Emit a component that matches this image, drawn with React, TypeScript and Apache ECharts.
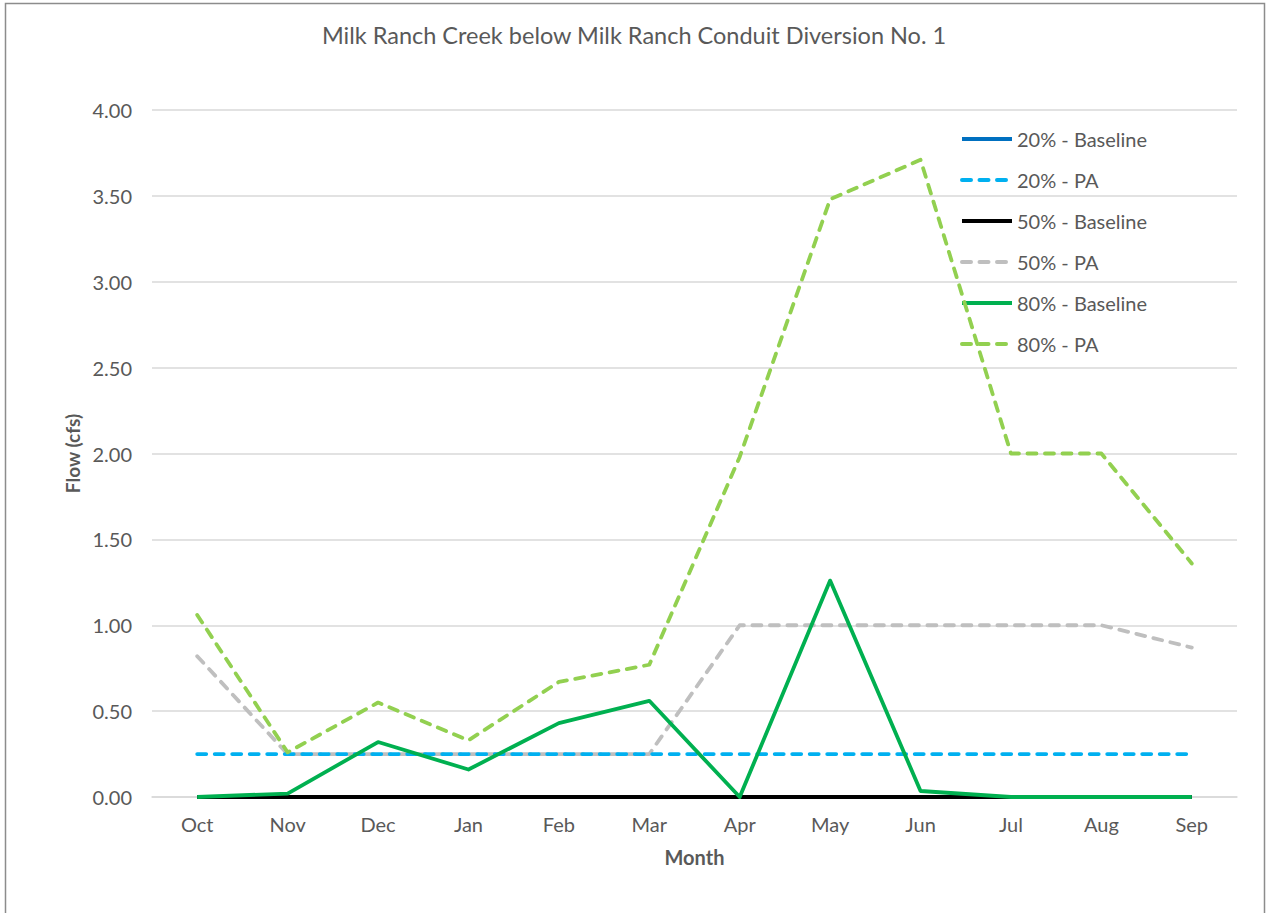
import React, { useEffect, useRef } from "react";
import * as echarts from "echarts";

const months = ["Oct", "Nov", "Dec", "Jan", "Feb", "Mar", "Apr", "May", "Jun", "Jul", "Aug", "Sep"];
const baseline20 = [0, 0, 0, 0, 0, 0, 0, 0, 0, 0, 0, 0];
const pa20 = [0.25, 0.25, 0.25, 0.25, 0.25, 0.25, 0.25, 0.25, 0.25, 0.25, 0.25, 0.25];
const baseline50 = [0, 0, 0, 0, 0, 0, 0, 0, 0, 0, 0, 0];
const pa50 = [0.82, 0.25, 0.25, 0.25, 0.25, 0.25, 1.0, 1.0, 1.0, 1.0, 1.0, 0.87];
const baseline80 = [0, 0.02, 0.32, 0.16, 0.43, 0.56, 0, 1.26, 0.035, 0, 0, 0];
const pa80 = [1.06, 0.26, 0.55, 0.33, 0.67, 0.77, 1.98, 3.48, 3.71, 2.0, 2.0, 1.36];
const yTicks = [0, 0.5, 1, 1.5, 2, 2.5, 3, 3.5, 4];

const FONT = "Lato, 'Open Sans', sans-serif";
const TXT = "#595959";

export default function App() {
  const ref = useRef<HTMLDivElement>(null);
  useEffect(() => {
    if (!ref.current) return;
    const chart = echarts.init(ref.current, null, { renderer: "svg" });
    const mk = (name: string, data: number[], color: string, dashed: boolean, z: number) => ({
      name,
      type: "line",
      data,
      symbol: "none",
      showSymbol: false,
      z,
      itemStyle: { color },
      lineStyle: {
        color,
        width: 3.8,
        type: dashed ? [9, 8.5] : "solid",
        cap: dashed ? "round" : "butt",
        join: "round",
      },
    });
    chart.setOption({
      animation: false,
      backgroundColor: "#ffffff",
      textStyle: { fontFamily: FONT },
      title: {
        text: "Milk Ranch Creek below Milk Ranch Conduit Diversion No. 1",
        left: "center",
        top: 18,
        textStyle: { fontFamily: FONT, fontSize: 23.5, fontWeight: "normal", color: TXT },
      },
      graphic: [
        {
          type: "rect",
          shape: { x: 5.5, y: 3.5, width: 1259, height: 930 },
          style: { fill: "none", stroke: "#8c8c8c", lineWidth: 1.5 },
          silent: true,
        },
      ],
      grid: { left: 152, right: 31, top: 110, bottom: 116 },
      legend: {
        orient: "vertical",
        left: 955,
        top: 122,
        itemWidth: 50,
        itemHeight: 24,
        itemGap: 17,
        itemStyle: { opacity: 0 },
        lineStyle: { width: 4 },
        textStyle: { fontFamily: FONT, fontSize: 20, color: TXT, lineHeight: 24 },
        data: ["20% - Baseline", "20% - PA", "50% - Baseline", "50% - PA", "80% - Baseline", "80% - PA"],
      },
      xAxis: {
        type: "category",
        data: months,
        boundaryGap: true,
        name: "Month",
        nameLocation: "middle",
        nameGap: 50,
        nameTextStyle: { fontFamily: FONT, fontSize: 20, fontWeight: "bold", color: TXT },
        axisLine: { show: true, lineStyle: { color: "#d9d9d9", width: 1.5 } },
        axisTick: { show: false },
        axisLabel: { fontFamily: FONT, fontSize: 20, color: TXT, margin: 17 },
      },
      yAxis: {
        type: "value",
        min: yTicks[0],
        max: yTicks[yTicks.length - 1],
        interval: 0.5,
        name: "Flow (cfs)",
        nameLocation: "middle",
        nameGap: 69,
        nameTextStyle: { fontFamily: FONT, fontSize: 19, fontWeight: "bold", color: TXT },
        axisLine: { show: false },
        axisTick: { show: false },
        splitLine: { lineStyle: { color: "#d9d9d9", width: 1.5 } },
        axisLabel: {
          fontFamily: FONT,
          fontSize: 20,
          color: TXT,
          margin: 20,
          formatter: (v: number) => v.toFixed(2),
        },
      },
      series: [
        mk("20% - Baseline", baseline20, "#0070C0", false, 2),
        mk("20% - PA", pa20, "#00B0F0", true, 3),
        mk("50% - Baseline", baseline50, "#000000", false, 4),
        mk("50% - PA", pa50, "#BFBFBF", true, 2),
        mk("80% - Baseline", baseline80, "#00B050", false, 5),
        mk("80% - PA", pa80, "#92D050", true, 6),
      ],
    });
    return () => chart.dispose();
  }, []);
  return (
    <div
      ref={ref}
      style={{ position: "fixed", left: 0, top: 0, width: 1268, height: 913, background: "#fff" }}
    />
  );
}
